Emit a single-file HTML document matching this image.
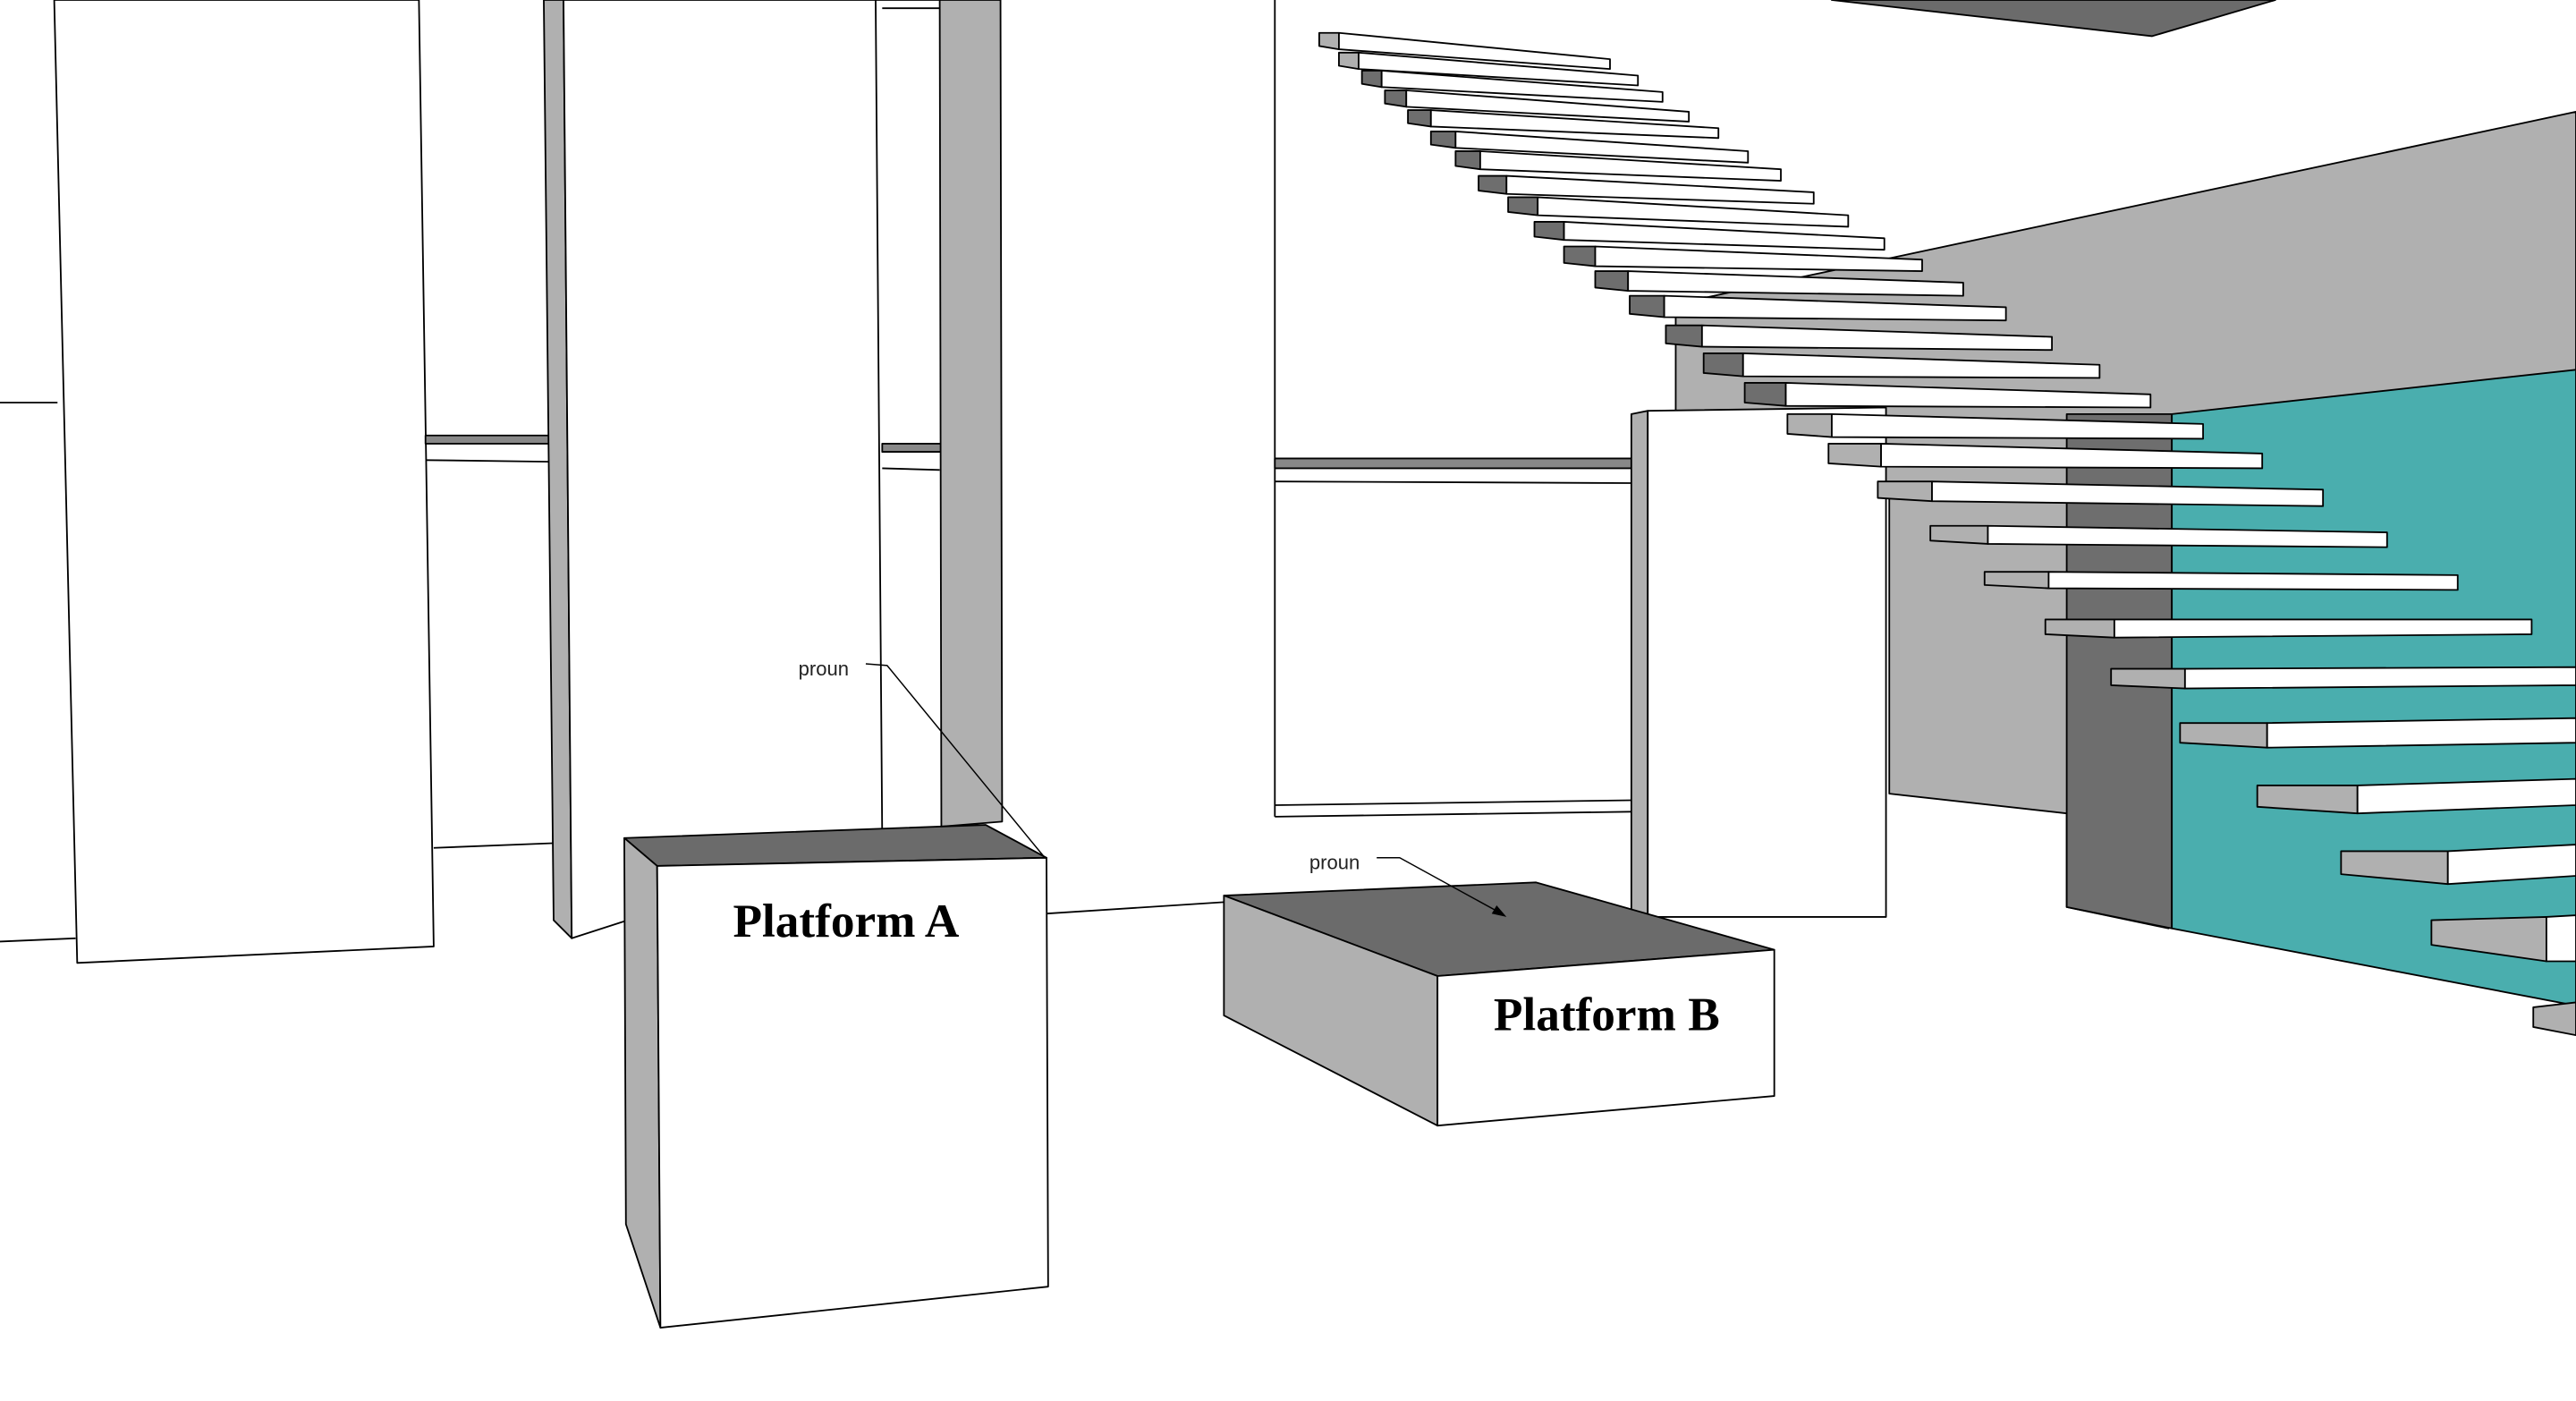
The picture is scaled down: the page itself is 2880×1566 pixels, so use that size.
<!DOCTYPE html>
<html><head><meta charset="utf-8"><style>html,body{margin:0;padding:0;background:#fff}svg{display:block}</style></head>
<body>
<svg width="2880" height="1566" viewBox="0 0 1568 852.6" preserveAspectRatio="none" xmlns="http://www.w3.org/2000/svg" stroke="#000" stroke-width="1" stroke-linejoin="round">
<rect x="0" y="0" width="1568" height="853" fill="#fff" stroke="none"/>
<!-- ceiling piece -->
<polygon points="1115,0 1385,0 1310,22" fill="#6b6b6b"/>
<!-- background grey wall -->
<polygon points="1020,185 1568,68 1568,250 1320,255 1320,565 1258,552 1258,495 1150,483 1150,300 1020,255" fill="#b0b0b0"/>
<polygon points="1258,252 1322,252 1322,565 1258,552" fill="#6e6e6e"/>
<polygon points="1322,252 1568,225 1568,612 1322,565" fill="#4aaeae"/>
<!-- left lines -->
<line x1="0" y1="245" x2="35" y2="245"/>
<line x1="0" y1="573" x2="46" y2="571"/>
<!-- left panel -->
<polygon points="33,0 255,0 264,576 47,586" fill="#fff"/>
<!-- rails between panels -->
<rect x="259" y="265" width="76" height="5" fill="#888"/>
<line x1="259" y1="280" x2="335" y2="281"/>
<line x1="264" y1="516" x2="340" y2="513"/>
<!-- panel 2 -->
<polygon points="331,0 343,0 348,571 337,560" fill="#b0b0b0"/>
<polygon points="343,0 533,0 537,510 348,571" fill="#fff"/>
<line x1="533" y1="0" x2="572" y2="0"/>
<line x1="537" y1="5" x2="572" y2="5"/>
<rect x="537" y="270" width="36" height="5" fill="#888"/>
<line x1="537" y1="285" x2="572" y2="286"/>
<!-- column -->
<polygon points="572,0 609,0 610,500 573,503" fill="#b0b0b0"/>
<line x1="776" y1="0" x2="776" y2="497"/>
<rect x="776" y="279" width="217" height="6" fill="#888"/>
<line x1="776" y1="293" x2="993" y2="294"/>
<line x1="776" y1="490" x2="993" y2="487"/>
<line x1="776" y1="497" x2="993" y2="494"/>
<line x1="637" y1="556" x2="745" y2="549"/>
<!-- tall block -->
<polygon points="993,252 1003,250 1003,558 993,556" fill="#b0b0b0"/>
<polygon points="1003,250 1148,248 1148,558 1003,558" fill="#fff"/>
<!-- stairs -->
<g id="stairs">
<script type="text/plain"></script>
</g>
<g>
<!-- generated steps: grey side, dark underside, white front -->
<polygon points="803,20 815,20 815,30 803,28" fill="#b0b0b0"/><polygon points="815,20 980,36 980,42 815,30" fill="#fff"/>
<polygon points="815,32 827,32 827,42 815,40" fill="#b0b0b0"/><polygon points="827,32 997,46 997,52 827,42" fill="#fff"/>
<polygon points="829,43 841,43 841,53 829,51" fill="#6e6e6e"/><polygon points="841,43 1012,56 1012,62 841,53" fill="#fff"/>
<polygon points="843,55 856,55 856,65 843,63" fill="#6e6e6e"/><polygon points="856,55 1028,68 1028,74 856,65" fill="#fff"/>
<polygon points="857,67 871,67 871,77 857,75" fill="#6e6e6e"/><polygon points="871,67 1046,78 1046,84 871,77" fill="#fff"/>
<polygon points="871,80 886,80 886,90 871,88" fill="#6e6e6e"/><polygon points="886,80 1064,92 1064,99 886,90" fill="#fff"/>
<polygon points="886,92 901,92 901,103 886,101" fill="#6e6e6e"/><polygon points="901,92 1084,103 1084,110 901,103" fill="#fff"/>
<polygon points="900,107 917,107 917,118 900,116" fill="#6e6e6e"/><polygon points="917,107 1104,117 1104,124 917,118" fill="#fff"/>
<polygon points="918,120 936,120 936,131 918,129" fill="#6e6e6e"/><polygon points="936,120 1125,131 1125,138 936,131" fill="#fff"/>
<polygon points="934,135 952,135 952,146 934,144" fill="#6e6e6e"/><polygon points="952,135 1147,145 1147,152 952,146" fill="#fff"/>
<polygon points="952,150 971,150 971,162 952,160" fill="#6e6e6e"/><polygon points="971,150 1170,158 1170,165 971,162" fill="#fff"/>
<polygon points="971,165 991,165 991,177 971,175" fill="#6e6e6e"/><polygon points="991,165 1195,172 1195,180 991,177" fill="#fff"/>
<polygon points="992,180 1013,180 1013,193 992,191" fill="#6e6e6e"/><polygon points="1013,180 1221,187 1221,195 1013,193" fill="#fff"/>
<polygon points="1014,198 1036,198 1036,211 1014,209" fill="#6e6e6e"/><polygon points="1036,198 1249,205 1249,213 1036,211" fill="#fff"/>
<polygon points="1037,215 1061,215 1061,229 1037,227" fill="#6e6e6e"/><polygon points="1061,215 1278,222 1278,230 1061,229" fill="#fff"/>
<polygon points="1062,233 1087,233 1087,247 1062,245" fill="#6e6e6e"/><polygon points="1087,233 1309,240 1309,248 1087,247" fill="#fff"/>
<polygon points="1088,252 1115,252 1115,266 1088,264" fill="#b0b0b0"/><polygon points="1115,252 1341,258 1341,267 1115,266" fill="#fff"/>
<polygon points="1113,270 1145,270 1145,284 1113,282" fill="#b0b0b0"/><polygon points="1145,270 1377,276 1377,285 1145,284" fill="#fff"/>
<polygon points="1143,293 1176,293 1176,305 1143,303" fill="#b0b0b0"/><polygon points="1176,293 1414,298 1414,308 1176,305" fill="#fff"/>
<polygon points="1175,320 1210,320 1210,331 1175,329" fill="#b0b0b0"/><polygon points="1210,320 1453,324 1453,333 1210,331" fill="#fff"/>
<polygon points="1208,348 1247,348 1247,358 1208,356" fill="#b0b0b0"/><polygon points="1247,348 1496,350 1496,359 1247,358" fill="#fff"/>
<polygon points="1245,377 1287,377 1287,388 1245,386" fill="#b0b0b0"/><polygon points="1287,377 1541,377 1541,386 1287,388" fill="#fff"/>
<polygon points="1285,407 1330,407 1330,419 1285,417" fill="#b0b0b0"/><polygon points="1330,407 1568,406 1568,417 1330,419" fill="#fff"/>
<polygon points="1327,440 1380,440 1380,455 1327,452" fill="#b0b0b0"/><polygon points="1380,440 1568,437 1568,452 1380,455" fill="#fff"/>
<polygon points="1374,478 1435,478 1435,495 1374,491" fill="#b0b0b0"/><polygon points="1435,478 1568,474 1568,490 1435,495" fill="#fff"/>
<polygon points="1425,518 1490,518 1490,538 1425,532" fill="#b0b0b0"/><polygon points="1490,518 1568,514 1568,533 1490,538" fill="#fff"/>
<polygon points="1480,560 1550,558 1550,585 1480,575" fill="#b0b0b0"/><polygon points="1550,558 1568,557 1568,585 1550,585" fill="#fff"/>
<polygon points="1542,613 1568,610 1568,630 1542,625" fill="#b0b0b0"/>
</g>
<!-- Platform A -->
<polygon points="380,510 600,502 637,522 400,527" fill="#6b6b6b"/>
<polygon points="380,510 400,527 402,808 381,745" fill="#b0b0b0"/>
<polygon points="400,527 637,522 638,783 402,808" fill="#fff"/>
<text x="515" y="570" text-anchor="middle" font-family="Liberation Serif, serif" font-weight="bold" font-size="29" stroke="none" fill="#000">Platform A</text>
<!-- Platform B -->
<polygon points="745,545 935,537 1080,578 875,594" fill="#6b6b6b"/>
<polygon points="745,545 875,594 875,685 745,618" fill="#b0b0b0"/>
<polygon points="875,594 1080,578 1080,667 875,685" fill="#fff"/>
<text x="978" y="627" text-anchor="middle" font-family="Liberation Serif, serif" font-weight="bold" font-size="29" stroke="none" fill="#000">Platform B</text>
<!-- labels -->
<text x="486" y="411" font-family="Liberation Sans, sans-serif" font-size="12" stroke="none" fill="#222">proun</text>
<polyline points="527,404 540,405 636,522" fill="none" stroke-width="0.8"/>
<text x="797" y="529" font-family="Liberation Sans, sans-serif" font-size="12" stroke="none" fill="#222">proun</text>
<polyline points="838,522 852,522 914,556" fill="none" stroke-width="0.8"/>
<polygon points="917,558 908,556 911,551" fill="#000" stroke="none"/>
</svg>
</body></html>
